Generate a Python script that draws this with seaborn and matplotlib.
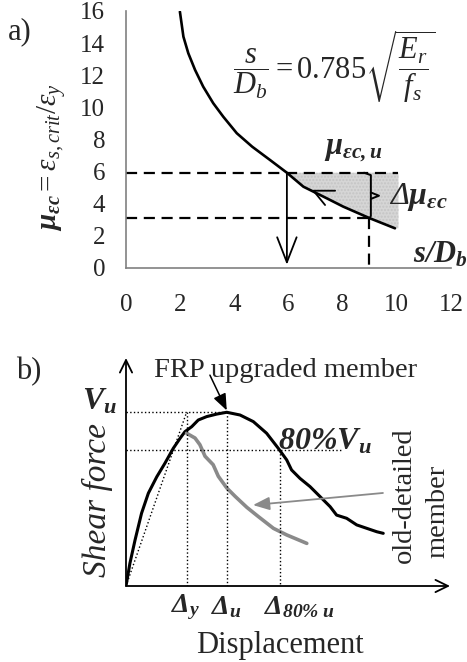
import numpy as np
import matplotlib
matplotlib.use('Agg')
import matplotlib.pyplot as plt
import seaborn as sns

# ---- panel a) data
s_db = [1.99, 2.12, 2.30, 2.55, 2.85, 3.22, 3.59, 4.09, 4.66, 5.32, 5.94, 6.55,
        6.79, 7.41, 8.02, 9.01, 9.93]
mu = [15.96, 14.40, 13.37, 12.33, 11.29, 10.26, 9.42, 8.39, 7.55, 6.72, 5.93,
      5.06, 4.86, 4.34, 3.82, 3.09, 2.47]
s_u, mu_u = 5.94, 5.93       # upper point
s_low, mu_low = 8.96, 3.09   # lower point
s_shade_end = 10.06
a_xticks = [0, 2, 4, 6, 8, 10, 12]
a_yticks = [0, 2, 4, 6, 8, 10, 12, 14, 16]

# ---- panel b) data
disp_frp = [0, 0.12, 0.28, 0.48, 0.69, 0.95, 1.20, 1.46, 1.67, 1.82, 2.03, 2.23,
            2.49, 2.80, 3.11, 3.52, 3.93, 4.34, 4.70, 4.96, 5.11, 5.37, 5.68,
            5.99, 6.30, 6.50, 6.81, 7.12, 7.43, 7.74, 7.94]
force_frp = [0, 0.99, 2.02, 3.19, 4.07, 4.79, 5.38, 6.04, 6.48, 6.77, 6.99, 7.28,
             7.43, 7.54, 7.62, 7.50, 7.21, 6.70, 6.04, 5.53, 5.09, 4.72, 4.36,
             3.92, 3.48, 3.11, 2.97, 2.68, 2.53, 2.38, 2.31]
disp_old = [1.87, 2.13, 2.28, 2.44, 2.69, 2.85, 3.11, 3.37, 3.73, 4.08, 4.55, 4.96, 5.58]
force_old = [6.70, 6.49, 6.20, 5.69, 5.32, 4.81, 4.30, 3.93, 3.45, 3.05, 2.53, 2.24, 1.87]
d_y, d_u, d_80 = 1.87, 3.11, 4.75
v_u, v_80 = 7.62, 5.96
v_80_end = 6.71

sns.set_theme(style='white')
plt.rcParams['font.family'] = ['Liberation Serif', 'DejaVu Serif']
plt.rcParams['mathtext.fontset'] = 'custom'
plt.rcParams['mathtext.rm'] = 'Liberation Serif'
plt.rcParams['mathtext.it'] = 'Liberation Serif:italic'
plt.rcParams['mathtext.bf'] = 'Liberation Serif:bold:italic'

fig = plt.figure(figsize=(4.67, 6.62), dpi=100)

# ================= a) =================
ax = fig.add_axes([0.2698, 0.5952, 0.696, 0.3882])
sns.lineplot(x=s_db, y=mu, ax=ax, color='black', lw=1.9, sort=False)

# shaded zone between curve and mu_u
sx = [s_u] + [v for v in s_db if v > s_u] + [s_shade_end]
sy = [mu_u] + [m for v, m in zip(s_db, mu) if v > s_u] + [mu[-1]]
ax.fill_between(sx, sy, mu_u, facecolor='#d6d6d6', edgecolor='#c4c4c4',
                hatch='.....', linewidth=0, zorder=0)

dash = dict(color='black', lw=1.6, ls=(0, (5, 3)))
ax.plot([0, s_shade_end], [mu_u, mu_u], **dash)
ax.plot([0, s_low], [mu_low, mu_low], **dash)
ax.plot([s_low, s_low], [mu_low, 0], **dash)

ax.annotate('', xy=(s_u, 0.2), xytext=(s_u, mu_u),
            arrowprops=dict(arrowstyle='->,head_length=0.9,head_width=0.35',
                            color='black', lw=1.3, mutation_scale=20,
                            shrinkA=0, shrinkB=0))
# small arrow head on the curve
ax.plot([7.72, 6.92, 7.35], [4.81, 4.81, 3.92], color='black', lw=1.3)

# brace
bx = 9.04
ax.plot([bx - 0.25, bx, bx, bx - 0.05], [mu_u, mu_u - 0.15, mu_low + 0.15, mu_low],
        color='black', lw=1.4)
ax.plot([bx, bx + 0.3, bx], [4.7, 4.5, 4.3], color='black', lw=1.4)

ax.set_xlim(0, 12)
ax.set_ylim(0, 16)
ax.set_xticks(a_xticks)
ax.set_yticks(a_yticks)
ax.tick_params(axis='both', direction='in', length=6, width=1, color='black',
               labelsize=18)
ax.tick_params(axis='x', pad=19)
ax.tick_params(axis='y', pad=15)
for side in ['top', 'right']:
    ax.spines[side].set_visible(False)
for side in ['left', 'bottom']:
    ax.spines[side].set_color('#808080')
    ax.spines[side].set_linewidth(1.2)

ax.text(7.7, 12.5, r'$\dfrac{s}{D_b} = 0.785\sqrt{\dfrac{E_r}{f_s}}$',
        fontsize=22, ha='center', va='center')
ax.text(8.4, 7.4, r'$\mathbf{\mu_{\varepsilon c,u}}$', fontsize=22,
        ha='center', va='center')
ax.text(10.8, 4.4, r'Δ$\mathbf{\mu_{\varepsilon c}}$', fontsize=23,
        style='italic', ha='center', va='center')
ax.text(11.6, 0.85, r'$\mathbf{s/D_b}$', fontsize=22, ha='center',
        va='center', clip_on=False)

fig.text(20 / 467, 1 - 32 / 662, 'a)', fontsize=22, ha='center', va='center')
fig.text(51 / 467, 1 - 157 / 662,
         r'$\mathbf{\mu_{\varepsilon c}} = \varepsilon_{s,crit}/\varepsilon_{y}$',
         fontsize=21, rotation=90, ha='center', va='center')

# ================= b) =================
bx2 = fig.add_axes([0.2698, 0.1148, 0.6938, 0.3444])
sns.lineplot(x=disp_frp, y=force_frp, ax=bx2, color='black', lw=2.2, sort=False)
sns.lineplot(x=disp_old, y=force_old, ax=bx2, color='#8a8a8a', lw=2.6, sort=False)

dot = dict(color='black', lw=1.0, ls=':')
bx2.plot([0, d_y], [0, v_u], **dot)
bx2.plot([0, d_u], [v_u, v_u], **dot)
bx2.plot([0, v_80_end], [v_80, v_80], **dot)
bx2.plot([d_y, d_y], [v_u, 0], **dot)
bx2.plot([d_u, d_u], [v_u, 0], **dot)
bx2.plot([d_80, d_80], [v_80, 0], **dot)

axis_arrow = dict(arrowstyle='->,head_length=0.45,head_width=0.22', color='black',
                  lw=1.3, mutation_scale=20, shrinkA=0, shrinkB=0)
bx2.annotate('', xy=(10, 0), xytext=(0, 0), arrowprops=axis_arrow,
             annotation_clip=False)
bx2.annotate('', xy=(0, 10), xytext=(0, 0), arrowprops=axis_arrow,
             annotation_clip=False)

bx2.annotate('', xy=(3.11, 7.70), xytext=(2.59, 9.25),
             arrowprops=dict(arrowstyle='-|>,head_length=0.5,head_width=0.2',
                             color='black', lw=1.1, mutation_scale=20,
                             shrinkA=0, shrinkB=0))
bx2.annotate('', xy=(3.92, 3.55), xytext=(7.93, 4.08),
             arrowprops=dict(arrowstyle='-|>,head_length=0.5,head_width=0.2',
                             color='#8a8a8a', lw=1.3, mutation_scale=20,
                             shrinkA=0, shrinkB=0))

bx2.set_xlim(0, 10)
bx2.set_ylim(0, 10)
bx2.set_xticks([])
bx2.set_yticks([])
for side in bx2.spines:
    bx2.spines[side].set_visible(False)
bx2.patch.set_alpha(0)

bx2.text(4.91, 9.47, 'FRP upgraded member', fontsize=20.5, ha='center',
         va='center', clip_on=False)
bx2.text(-0.8, 8.07, r'$\mathbf{V_u}$', fontsize=23, ha='center', va='center',
         clip_on=False)
bx2.text(6.14, 6.32, r'$\mathbf{80\%V_u}$', fontsize=23, ha='center',
         va='center', clip_on=False)
bx2.text(8.58, 3.99, 'old-detailed', fontsize=20.5, rotation=90, ha='center',
         va='center', clip_on=False)
bx2.text(9.63, 3.29, 'member', fontsize=20.5, rotation=90, ha='center',
         va='center', clip_on=False)
bx2.text(1.85, -0.92, r'$\mathbf{\Delta_y}$', fontsize=20, ha='center',
         va='center', clip_on=False)
bx2.text(3.09, -0.92, r'$\mathbf{\Delta_u}$', fontsize=20, ha='center',
         va='center', clip_on=False)
bx2.text(5.37, -0.92, r'$\mathbf{\Delta_{80\%\ u}}$', fontsize=20, ha='center',
         va='center', clip_on=False)

fig.text(29 / 467, 1 - 372 / 662, 'b)', fontsize=22, ha='center', va='center')
fig.text(97 / 467, 1 - 500 / 662, 'Shear force', fontsize=24, style='italic',
         rotation=90, ha='center', va='center')
fig.text(280 / 467, 1 - 645 / 662, 'Displacement', fontsize=22, ha='center',
         va='center')

fig.savefig('out.png', dpi=100)
